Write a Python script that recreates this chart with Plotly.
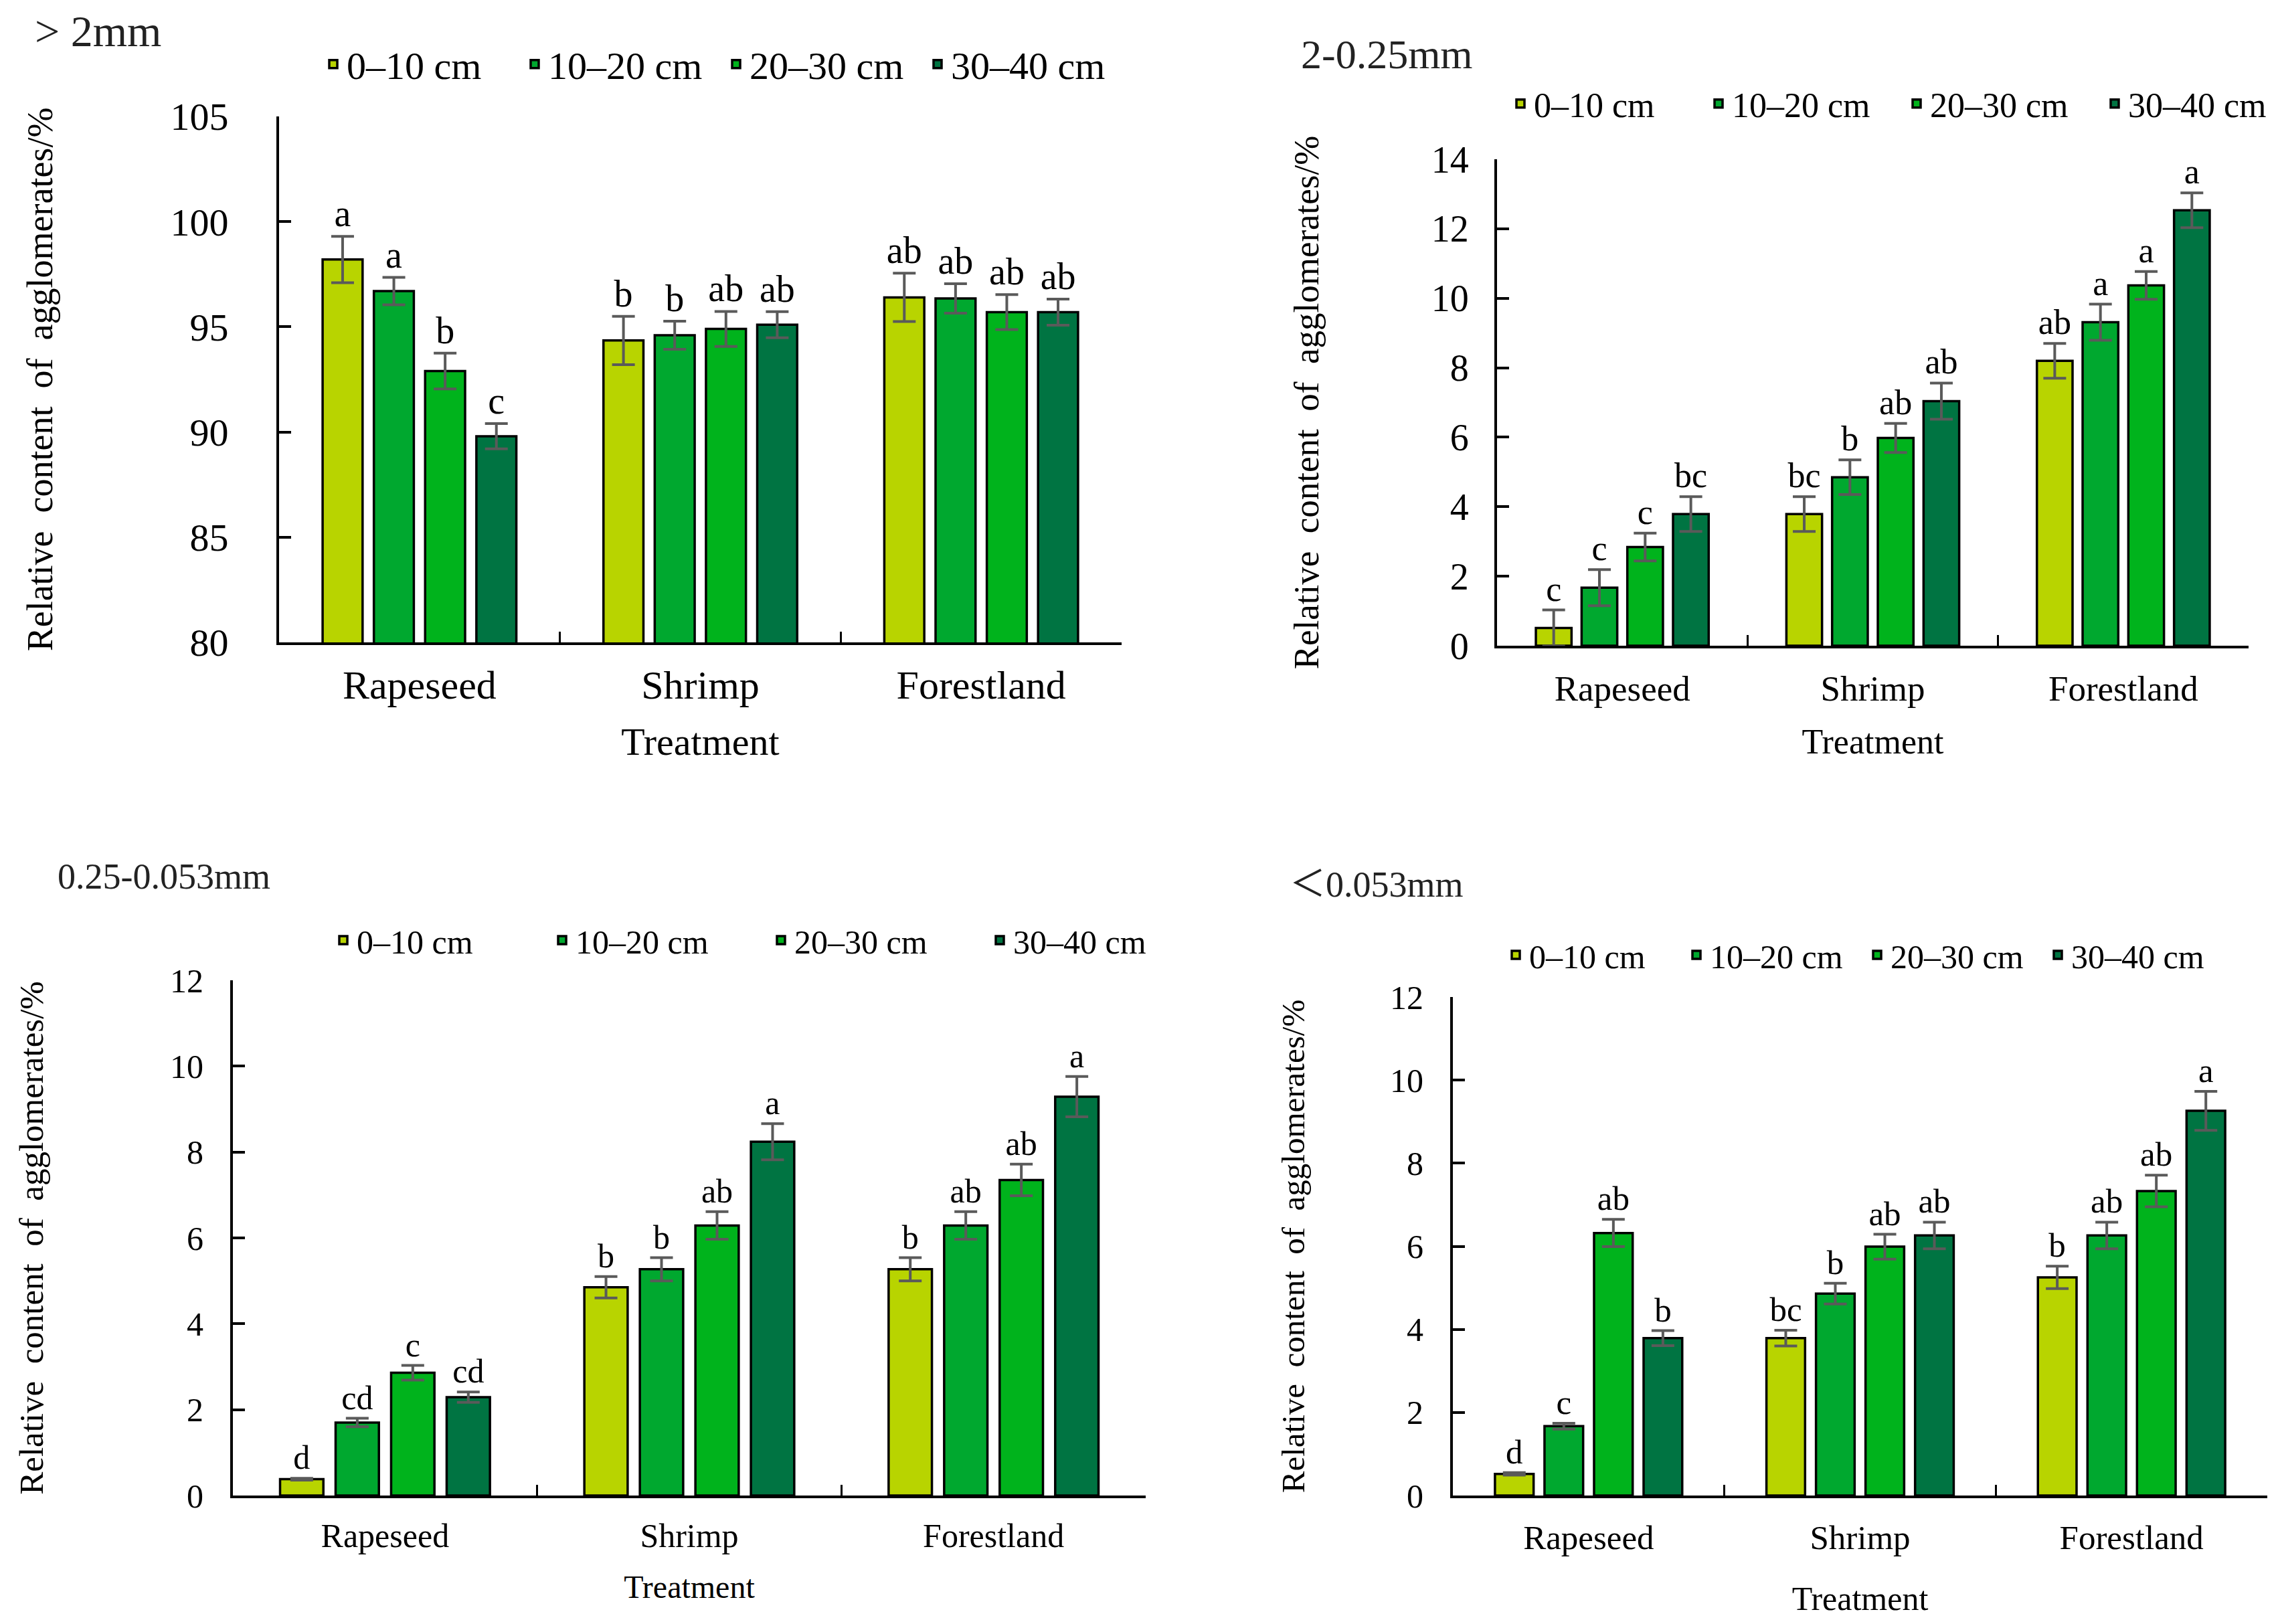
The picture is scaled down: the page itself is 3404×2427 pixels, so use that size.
import plotly.graph_objects as go

FONT = "Liberation Serif, Times New Roman, serif"

categories = ["Rapeseed", "Shrimp", "Forestland"]
depths = ["0–10 cm", "10–20 cm", "20–30 cm", "30–40 cm"]
colors = ["#B8D400", "#00A82F", "#00B31C", "#007442"]

# > 2mm  (rows = depth series, columns = categories)
p1_vals = [[98.2, 94.35, 96.4], [96.7, 94.6, 96.35], [92.9, 94.9, 95.7], [89.8, 95.1, 95.7]]
p1_errs = [[1.1, 1.15, 1.15], [0.65, 0.67, 0.7], [0.85, 0.83, 0.83], [0.6, 0.62, 0.62]]
p1_letters = [["a", "b", "ab"], ["a", "b", "ab"], ["b", "ab", "ab"], ["c", "ab", "ab"]]

# 2-0.25mm
p2_vals = [[0.51, 3.79, 8.2], [1.67, 4.85, 9.31], [2.84, 5.98, 10.37], [3.79, 7.04, 12.53]]
p2_errs = [[0.52, 0.5, 0.5], [0.52, 0.5, 0.52], [0.4, 0.42, 0.4], [0.5, 0.52, 0.5]]
p2_letters = [["c", "bc", "ab"], ["c", "b", "a"], ["c", "ab", "a"], ["bc", "ab", "a"]]

# 0.25-0.053mm
p3_vals = [[0.38, 4.85, 5.27], [1.70, 5.27, 6.29], [2.86, 6.29, 7.35], [2.29, 8.24, 9.29]]
p3_errs = [[0.02, 0.25, 0.27], [0.1, 0.27, 0.32], [0.17, 0.32, 0.37], [0.12, 0.42, 0.47]]
p3_letters = [["d", "b", "b"], ["cd", "b", "ab"], ["c", "ab", "ab"], ["cd", "a", "a"]]

# <0.053mm
p4_vals = [[0.52, 3.79, 5.25], [1.67, 4.86, 6.26], [6.32, 5.99, 7.33], [3.79, 6.26, 9.26]]
p4_errs = [[0.03, 0.19, 0.27], [0.07, 0.25, 0.32], [0.33, 0.3, 0.38], [0.18, 0.32, 0.47]]
p4_letters = [["d", "bc", "b"], ["c", "b", "ab"], ["ab", "ab", "ab"], ["b", "ab", "a"]]

titles = ["> 2mm", "2-0.25mm", "0.25-0.053mm", "＜0.053mm"]
y_ranges = [[80, 105], [0, 14], [0, 12], [0, 12]]
y_dticks = [5, 2, 2, 2]

# page is 3404 x 2427; the html body has an 8 px margin
OFF = 8
W, H = 3404 - 2 * OFF, 2427 - 2 * OFF


def px(x):
    return (x - OFF) / W


def py(y):
    return 1 - (y - OFF) / H


panels = [
    dict(vals=p1_vals, errs=p1_errs, letters=p1_letters,
         xdom=[px(417), px(1676)], ydom=[py(960), py(174)],
         tick=58, cat=60, leg=58, ytit=54, xtit=58, tit=66, let=56,
         ystand=60, xstand=8, ytstand=160, xtstand=32,
         legx=px(478), legy=py(96), legw=256,
         titx=px(50), tity=py(46)),
    dict(vals=p2_vals, errs=p2_errs, letters=p2_letters,
         xdom=[px(2237), px(3360)], ydom=[py(965), py(238)],
         tick=56, cat=53, leg=52, ytit=53, xtit=52, tit=62, let=52,
         ystand=27, xstand=14, ytstand=152, xtstand=34,
         legx=px(2252), legy=py(155), legw=251,
         titx=px(1942), tity=py(81)),
    dict(vals=p3_vals, errs=p3_errs, letters=p3_letters,
         xdom=[px(348), px(1712)], ydom=[py(2235), py(1465)],
         tick=50, cat=50, leg=50, ytit=51, xtit=48, tit=54, let=50,
         ystand=30, xstand=13, ytstand=174, xtstand=33,
         legx=px(493), legy=py(1405), legw=282,
         titx=px(84), tity=py(1310)),
    dict(vals=p4_vals, errs=p4_errs, letters=p4_letters,
         xdom=[px(2171), px(3388)], ydom=[py(2235), py(1490)],
         tick=50, cat=51, leg=50, ytit=49, xtit=50, tit=54, let=51,
         ystand=30, xstand=15, ytstand=113, xtstand=47,
         legx=px(2245), legy=py(1427), legw=225,
         titx=px(1925), tity=py(1322)),
]

fig = go.Figure()
layout = dict(
    width=W, height=H, margin=dict(l=0, r=0, t=0, b=0, autoexpand=False),
    paper_bgcolor="white", plot_bgcolor="white",
    barmode="group", bargap=0.27, bargroupgap=0.22,
    font=dict(family=FONT, color="black"),
    annotations=[],
)

for i, p in enumerate(panels):
    n = i + 1
    xa = "x" if n == 1 else f"x{n}"
    ya = "y" if n == 1 else f"y{n}"
    lg = "legend" if n == 1 else f"legend{n}"
    for j, d in enumerate(depths):
        fig.add_trace(go.Bar(
            x=categories, y=p["vals"][j], name=d,
            marker=dict(color=colors[j], line=dict(color="black", width=3.5)),
            error_y=dict(type="data", array=p["errs"][j], color="#5a5a5a",
                         thickness=4, width=17),
            xaxis=xa, yaxis=ya, legend=lg, offsetgroup=f"g{j}",
        ))
    for j, d in enumerate(depths):
        tops = [v + e for v, e in zip(p["vals"][j], p["errs"][j])]
        fig.add_trace(go.Bar(
            x=categories, y=tops, text=p["letters"][j],
            textposition="outside", textangle=0, constraintext="none",
            cliponaxis=False,
            textfont=dict(family=FONT, size=p["let"], color="black"),
            marker=dict(color="rgba(0,0,0,0)", line=dict(width=0)),
            showlegend=False, hoverinfo="skip",
            xaxis=xa, yaxis=ya, offsetgroup=f"g{j}",
        ))

    xk = "xaxis" if n == 1 else f"xaxis{n}"
    yk = "yaxis" if n == 1 else f"yaxis{n}"
    layout[xk] = dict(
        domain=p["xdom"], anchor=ya, type="category", range=[-0.5, 2.5],
        automargin=False,
        showline=True, linecolor="black", linewidth=4, mirror=False,
        ticks="inside", tickson="boundaries", ticklen=16, tickwidth=3, tickcolor="black",
        tickfont=dict(family=FONT, size=p["cat"], color="black"),
        ticklabelstandoff=p["xstand"], showgrid=False, zeroline=False,
        title=dict(text="Treatment", font=dict(family=FONT, size=p["xtit"], color="black"),
                   standoff=p["xtstand"]),
    )
    layout[yk] = dict(
        domain=p["ydom"], anchor=xa, range=y_ranges[i], dtick=y_dticks[i],
        automargin=False,
        showline=True, linecolor="black", linewidth=4,
        ticks="inside", ticklen=18, tickwidth=4, tickcolor="black",
        tickfont=dict(family=FONT, size=p["tick"], color="black"),
        ticklabelstandoff=p["ystand"], showgrid=False, zeroline=False,
        title=dict(text="Relative  content  of  agglomerates/%",
                   font=dict(family=FONT, size=p["ytit"], color="black"),
                   standoff=p["ytstand"]),
    )
    layout[lg] = dict(
        x=p["legx"], y=p["legy"], xanchor="left", yanchor="middle",
        orientation="h", entrywidth=p["legw"], entrywidthmode="pixels",
        font=dict(family=FONT, size=p["leg"], color="black"),
        bgcolor="rgba(0,0,0,0)", borderwidth=0, traceorder="normal",
    )
    layout["annotations"].append(dict(
        text=titles[i], xref="paper", yref="paper", x=p["titx"], y=p["tity"],
        xanchor="left", yanchor="middle", showarrow=False,
        font=dict(family=FONT + ", Noto Sans CJK SC", size=p["tit"], color="#222222"),
    ))

fig.update_layout(**layout)
fig.write_html("out.html")
